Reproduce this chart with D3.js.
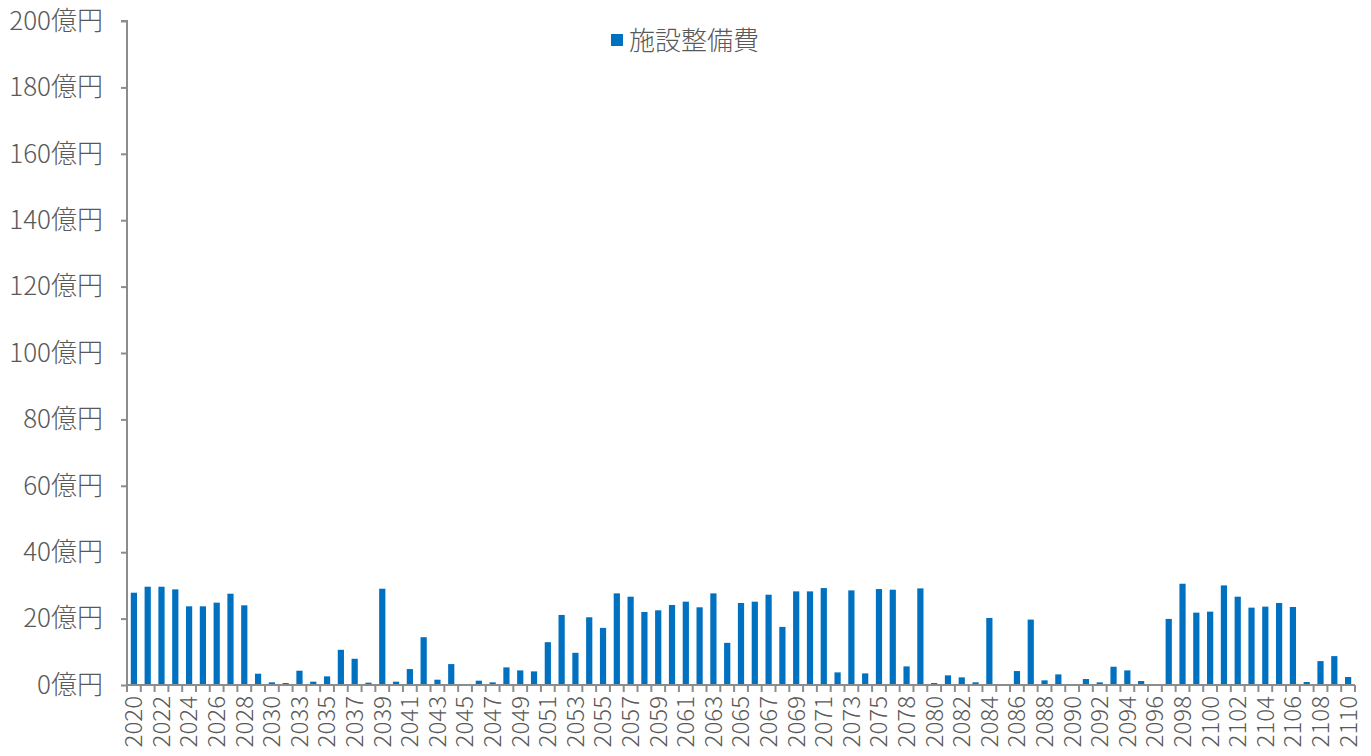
<!DOCTYPE html>
<html><head><meta charset="utf-8">
<script src="https://cdn.jsdelivr.net/npm/d3@7"></script>
<style>body{margin:0;background:#fff}svg{display:block}</style>
</head><body>
<svg id="c" width="1371" height="756"></svg>
<script>
const years = [];
for (let y = 2020; y <= 2031; y++) years.push(String(y));
for (let y = 2033; y <= 2076; y++) years.push(String(y));
for (let y = 2078; y <= 2110; y++) years.push(String(y));

const values = [
  27.8, 29.6, 29.6, 28.8, 23.7, 23.7, 24.8, 27.5, 24.0, 3.4, 0.8, 0.6,
  4.3, 1.0, 2.6, 10.6, 7.9, 0.7, 29.0, 1.0, 4.8, 14.4, 1.6, 6.3, 0.2, 1.3, 0.8, 5.3, 4.4, 4.1,
  12.9, 21.1, 9.7, 20.4, 17.2, 27.6, 26.6, 22.0, 22.5, 24.1, 25.1, 23.4, 27.6, 12.7, 24.7,
  25.1, 27.2, 17.5, 28.2, 28.2, 29.2, 3.8, 28.5, 3.5, 28.9, 28.7,
  5.6, 29.1, 0.6, 2.9, 2.3, 0.8, 20.2, 0, 4.2, 19.7, 1.4, 3.2, 0, 1.8, 0.8, 5.5, 4.4, 1.2, 0.3,
  19.9, 30.5, 21.8, 22.1, 30.0, 26.6, 23.3, 23.6, 24.7, 23.5, 0.9, 7.2, 8.7, 2.4
];
const yTicks = [0, 20, 40, 60, 80, 100, 120, 140, 160, 180, 200];
const seriesName = "施設整備費";
const unit = "億円";

const svg = d3.select("#c");
const font = "'Noto Sans CJK JP','Noto Sans',sans-serif";
const gray = "#595959";
const axisColor = "#8c8c8c";
const pLeft = 127, pRight = 1355, pTop = 21, pBottom = 685;

const x = d3.scaleBand().domain(years).range([pLeft, pRight]).paddingInner(0.55).paddingOuter(0.275);
const y = d3.scaleLinear().domain([0, 200]).range([pBottom, pTop]);

// bars
svg.append("g").selectAll("rect").data(years).join("rect")
  .attr("x", (d) => x(d))
  .attr("width", x.bandwidth())
  .attr("y", (d, i) => y(values[i]))
  .attr("height", (d, i) => y(0) - y(values[i]))
  .attr("fill", "#0070C0");

// y axis
const ya = svg.append("g").attr("transform", `translate(${pLeft},0)`)
  .call(d3.axisLeft(y).tickValues(yTicks).tickSize(6).tickPadding(18).tickFormat(d => d + unit));
ya.select(".domain").attr("stroke", axisColor).attr("stroke-width", 2).attr("d", `M-6,${pTop}H0V${pBottom}`);
ya.selectAll(".tick line").attr("stroke", axisColor).attr("stroke-width", 2);
ya.selectAll(".tick text").attr("fill", gray).style("font-family", font).style("font-weight", 300).style("font-size", "26px");

// x axis
const xg = svg.append("g");
xg.append("line").attr("x1", pLeft).attr("x2", pRight).attr("y1", pBottom).attr("y2", pBottom)
  .attr("stroke", axisColor).attr("stroke-width", 2);
const bounds = d3.range(years.length + 1).map(i => pLeft + i * x.step());
xg.selectAll("line.t").data(bounds).join("line").attr("class", "t")
  .attr("x1", d => d).attr("x2", d => d).attr("y1", pBottom).attr("y2", pBottom + 7)
  .attr("stroke", axisColor).attr("stroke-width", 2);
xg.selectAll("text").data(years.filter((d, i) => i % 2 === 0)).join("text")
  .attr("transform", d => `translate(${x(d) + x.bandwidth() / 2},${pBottom + 11}) rotate(-90)`)
  .attr("text-anchor", "end").attr("dy", "0.35em")
  .attr("fill", gray).style("font-family", font).style("font-weight", 300).style("font-size", "24px")
  .text(d => d);

// legend
const lg = svg.append("g");
lg.append("rect").attr("x", 611).attr("y", 34).attr("width", 12).attr("height", 12).attr("fill", "#0070C0");
lg.append("text").attr("x", 629).attr("y", 41).attr("dy", "0.35em").attr("fill", gray)
  .style("font-family", font).style("font-weight", 300).style("font-size", "26px").text(seriesName);
</script>
</body></html>
